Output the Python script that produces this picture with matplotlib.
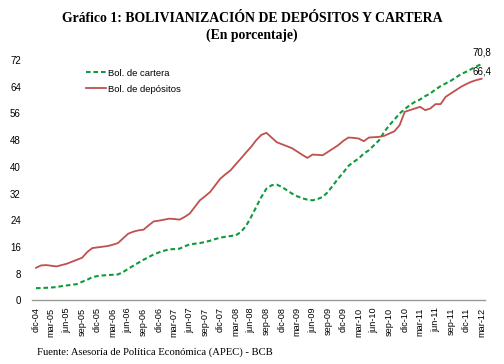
import matplotlib
matplotlib.use("Agg")
import matplotlib.pyplot as plt
import numpy as np

# monthly data dic-04 .. mar-12, labels every quarter
tick_labels = ["dic-04"]
for y in range(5, 13):
    for m in ["mar", "jun", "sep", "dic"]:
        tick_labels.append(f"{m}-{y:02d}")
tick_labels = tick_labels[:30]

depositos = [9.8, 10.5, 10.6, 10.4, 10.2, 10.6, 11.0, 11.6, 12.2, 12.8, 14.5, 15.7,
             15.9, 16.1, 16.3, 16.7, 17.2, 18.6, 20.0, 20.6, 21.0, 21.2, 22.5, 23.7,
             23.9, 24.2, 24.5, 24.4, 24.2, 25.0, 26.0, 28.0, 30.0, 31.2, 32.5, 34.5,
             36.5, 37.8, 39.0, 40.8, 42.5, 44.3, 46.0, 48.0, 49.6, 50.2, 48.8, 47.4,
             46.8, 46.2, 45.6, 44.6, 43.6, 42.7, 43.7, 43.6, 43.5, 44.5, 45.5, 46.5,
             47.8, 48.8, 48.7, 48.5, 47.7, 48.8, 48.9, 49.0, 49.3, 50.0, 50.7, 52.5,
             56.5, 57.0, 57.5, 58.0, 57.0, 57.5, 58.8, 58.8, 61.0, 62.0, 63.0, 64.0,
             64.8, 65.5, 66.0, 66.4]

cartera = [3.7, 3.7, 3.8, 3.9, 4.0, 4.3, 4.5, 4.7, 4.9, 5.6, 6.2, 7.0,
           7.3, 7.5, 7.6, 7.7, 7.8, 8.5, 9.5, 10.4, 11.3, 12.2, 13.0, 13.8,
           14.4, 14.9, 15.3, 15.4, 15.5, 16.2, 16.8, 17.0, 17.2, 17.5, 17.9, 18.4,
           18.8, 19.1, 19.3, 19.5, 20.5, 22.3, 25.0, 28.0, 31.0, 33.5, 34.5, 34.7,
           34.0, 33.0, 32.0, 31.2, 30.6, 30.2, 30.0, 30.4, 31.0, 32.5, 34.5, 36.5,
           38.3, 40.3, 41.5, 42.5, 44.0, 45.0, 46.5, 48.0, 50.5, 52.5, 54.2, 56.0,
           57.3, 58.5, 59.5, 60.2, 61.2, 62.0, 63.2, 64.2, 65.0, 65.8, 66.8, 67.8,
           68.5, 69.3, 70.1, 70.8]

x = np.arange(len(depositos))

plt.rcParams["font.family"] = ["Liberation Sans", "DejaVu Sans"]

fig = plt.figure(figsize=(5.04, 3.64), dpi=100)
ax = fig.add_axes([0.0635, 0.1745, 0.8985, 0.6605])

red = "#C0504D"
green = "#0F9A3C"
ax.plot(x, cartera, color=green, lw=1.5, ls=(0, (2.2, 1.4)), label="Bol. de cartera")
ax.plot(x, depositos, color=red, lw=1.3, label="Bol. de depósitos")

ax.set_xlim(-0.78, 87.64)
ax.set_ylim(0, 72)
ax.set_yticks(np.arange(0, 73, 8))
ax.set_xticks(np.arange(0, 88, 3))
ax.set_xticklabels(tick_labels, rotation=90, fontsize=6.6)
ax.tick_params(axis="y", labelsize=7, length=0, pad=8)
ax.tick_params(axis="x", length=0, pad=5)

for s in ["top", "right", "left"]:
    ax.spines[s].set_visible(False)
ax.spines["bottom"].set_color("#9a9a94")
ax.spines["bottom"].set_linewidth(1.0)

ax.annotate("70,8", (x[-1], cartera[-1]), xytext=(0, 4.5), textcoords="offset points",
            fontsize=7, ha="center", va="bottom", annotation_clip=False)
ax.annotate("66,4", (x[-1], depositos[-1]), xytext=(0, 1.5), textcoords="offset points",
            fontsize=7, ha="center", va="bottom", annotation_clip=False)

ax.legend(loc="upper left", bbox_to_anchor=(0.1, 1.0), frameon=False, fontsize=6.8,
          handlelength=2.1, handletextpad=0.3, labelspacing=0.75)

fig.text(0.5, 0.948, "Gráfico 1: BOLIVIANIZACIÓN DE DEPÓSITOS Y CARTERA",
         ha="center", va="center", fontsize=9.9, fontweight="bold", family="Liberation Serif")
fig.text(0.5, 0.902, "(En porcentaje)", ha="center", va="center", fontsize=9.9,
         fontweight="bold", family="Liberation Serif")
fig.text(0.073, 0.033, "Fuente: Asesoría de Política Económica (APEC) - BCB",
         ha="left", va="center", fontsize=7.7, family="Liberation Serif")

fig.savefig("out.png", dpi=100)
